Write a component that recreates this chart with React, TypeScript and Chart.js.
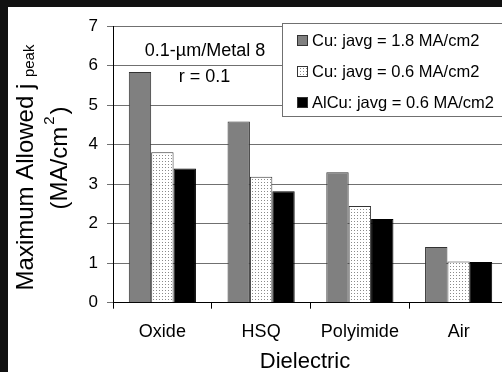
import React, { useEffect, useRef } from 'react';
import { Chart, registerables } from 'chart.js';

Chart.register(...registerables);

const categories = ['Oxide', 'HSQ', 'Polyimide', 'Air'];
const seriesLabels = ['Cu: javg = 1.8 MA/cm2', 'Cu: javg = 0.6 MA/cm2', 'AlCu: javg = 0.6 MA/cm2'];
const cuHigh = [5.84, 4.59, 3.3, 1.41];
const cuLow = [3.81, 3.19, 2.45, 1.04];
const alcuLow = [3.4, 2.82, 2.12, 1.03];
const yTicks = [0, 1, 2, 3, 4, 5, 6, 7];
const annotationLines = ['0.1-\u00b5m/Metal 8', 'r = 0.1'];
const yTitleMain = 'Maximum Allowed j';
const yTitleSub = 'peak';
const yTitleUnitA = '(MA/cm';
const yTitleUnitSup = '2';
const yTitleUnitB = ')';
const xTitle = 'Dielectric';

const FF = '"Liberation Sans", Arial, sans-serif';

function makeDots(): CanvasPattern | string {
  const c = document.createElement('canvas');
  c.width = 3;
  c.height = 3;
  const g = c.getContext('2d');
  if (!g) return '#ddd';
  g.fillStyle = '#ffffff';
  g.fillRect(0, 0, 3, 3);
  g.fillStyle = '#8a8a8a';
  g.fillRect(1, 1, 1, 1);
  const p = g.createPattern(c, 'repeat');
  return p || '#ddd';
}

const overlayPlugin = {
  id: 'overlay',
  afterDraw(chart: any) {
    const ctx = chart.ctx as CanvasRenderingContext2D;
    ctx.save();

    // legend box
    const lx = 274, ly = 16, lw = 240, lh = 93;
    ctx.fillStyle = '#ffffff';
    ctx.fillRect(lx, ly, lw, lh);
    ctx.strokeStyle = '#707070';
    ctx.lineWidth = 1;
    ctx.strokeRect(lx + 0.5, ly + 0.5, lw, lh);
    const rows = [33.7, 64.7, 95];
    ctx.font = `16.5px ${FF}`;
    ctx.textBaseline = 'middle';
    ctx.textAlign = 'left';
    seriesLabels.forEach((lab, i) => {
      const ds = chart.data.datasets[i];
      const y = rows[i];
      ctx.fillStyle = ds.backgroundColor;
      ctx.fillRect(289, Math.round(y - 5.5), 11, 11);
      ctx.strokeStyle = '#333';
      ctx.strokeRect(289.5, Math.round(y - 5.5) + 0.5, 10, 10);
      ctx.fillStyle = '#000';
      ctx.fillText(lab, 304, y + 1);
    });

    // annotation
    ctx.font = `18px ${FF}`;
    ctx.textAlign = 'center';
    ctx.fillStyle = '#000';
    ctx.fillText(annotationLines[0], 197, 44.5);
    ctx.fillText(annotationLines[1], 196.5, 70);

    // x title
    ctx.font = `22px ${FF}`;
    ctx.textAlign = 'center';
    ctx.fillText(xTitle, 297, 355);

    // y title line 1
    ctx.save();
    ctx.translate(16, 160.5);
    ctx.rotate(-Math.PI / 2);
    ctx.font = `24px ${FF}`;
    const w1 = ctx.measureText(yTitleMain + ' ').width;
    ctx.font = `15px ${FF}`;
    const w2 = ctx.measureText(yTitleSub).width;
    const start = -(w1 + w2) / 2;
    ctx.textAlign = 'left';
    ctx.textBaseline = 'alphabetic';
    ctx.font = `24px ${FF}`;
    ctx.fillText(yTitleMain, start, 9);
    ctx.font = `15px ${FF}`;
    ctx.fillText(yTitleSub, start + w1, 10);
    ctx.restore();

    // y title line 2
    ctx.save();
    ctx.translate(50, 151);
    ctx.rotate(-Math.PI / 2);
    ctx.font = `24px ${FF}`;
    const a = ctx.measureText(yTitleUnitA).width;
    const b = ctx.measureText(yTitleUnitB).width;
    ctx.font = `15px ${FF}`;
    const s = ctx.measureText(yTitleUnitSup).width;
    const st = -(a + s + b + 4) / 2;
    ctx.textAlign = 'left';
    ctx.textBaseline = 'alphabetic';
    ctx.font = `24px ${FF}`;
    ctx.fillText(yTitleUnitA, st, 9);
    ctx.font = `15px ${FF}`;
    ctx.fillText(yTitleUnitSup, st + a + 2, -4);
    ctx.font = `24px ${FF}`;
    ctx.fillText(yTitleUnitB, st + a + s + 4, 9);
    ctx.restore();

    ctx.restore();
  },
};

export default function App() {
  const ref = useRef<HTMLCanvasElement | null>(null);

  useEffect(() => {
    if (!ref.current) return;
    const dots = makeDots();
    const chart = new Chart(ref.current, {
      type: 'bar',
      data: {
        labels: categories,
        datasets: [
          { label: seriesLabels[0], data: cuHigh, backgroundColor: '#808080', borderColor: '#333', borderWidth: 1 },
          { label: seriesLabels[1], data: cuLow, backgroundColor: dots as any, borderColor: '#333', borderWidth: 1 },
          { label: seriesLabels[2], data: alcuLow, backgroundColor: '#000000', borderColor: '#000', borderWidth: 1 },
        ],
      },
      options: {
        animation: false,
        responsive: false,
        maintainAspectRatio: false,
        devicePixelRatio: 1,
        layout: { padding: { top: 13.7, right: 10, left: 0, bottom: 0 } },
        datasets: { bar: { categoryPercentage: 0.68, barPercentage: 1.0 } },
        plugins: { legend: { display: false }, tooltip: { enabled: false } },
        scales: {
          x: {
            type: 'category',
            offset: true,
            grid: { offset: true, drawOnChartArea: false, tickLength: 6, color: '#000' },
            border: { color: '#000' },
            ticks: { font: { family: FF, size: 18 }, color: '#000', padding: 13, maxRotation: 0 },
            afterFit: (sc: any) => { sc.height = 69.3; },
          },
          y: {
            min: 0,
            max: 7,
            afterBuildTicks: (sc: any) => { sc.ticks = yTicks.map((v) => ({ value: v })); },
            ticks: { font: { family: FF, size: 17 }, color: '#000', padding: 9 },
            grid: { color: '#707070', tickLength: 6 },
            border: { color: '#000' },
            afterFit: (sc: any) => { sc.width = 105; },
          },
        },
      } as any,
      plugins: [overlayPlugin],
    });
    return () => chart.destroy();
  }, []);

  return (
    <div style={{ position: 'fixed', left: 0, top: 0, width: 502, height: 372, overflow: 'hidden', background: '#111' }}>
      <div style={{ position: 'absolute', left: 8, top: 7, width: 520, height: 365, background: '#fff' }}>
        <canvas ref={ref} width={510} height={365} style={{ display: 'block' }} />
      </div>
    </div>
  );
}
